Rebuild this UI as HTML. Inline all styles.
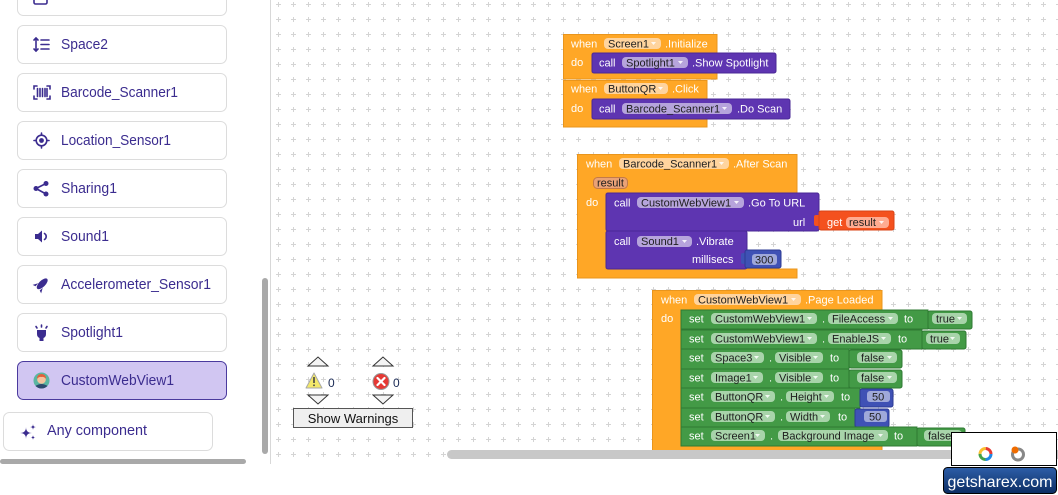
<!DOCTYPE html>
<html><head><meta charset="utf-8"><style>
html,body{margin:0;padding:0;background:#fff;width:1058px;height:495px;overflow:hidden}
svg{display:block}
text{font-family:"Liberation Sans",Arial,sans-serif}
.w{fill:#fff;font-size:11px}
.d{fill:#1e1e1e;font-size:11px}
.s{fill:#3b2c8f;font-size:15px}
.ar{fill:#fff;fill-opacity:.85}
.ic{fill:none;stroke:#3b2c8f;stroke-width:1.6;stroke-linecap:round}
.icf{fill:#3b2c8f}
.card{fill:#fff;stroke:#dcdcdc;stroke-width:1}
.or{fill:#ffa726;stroke:#e9951c;stroke-width:1}
.pu{fill:#5e35b1;stroke:#4a2896;stroke-width:1}
.gr{fill:#439a46;stroke:#2f7a33;stroke-width:1}
.bl{fill:#3f51b5;stroke:#2c3b94;stroke-width:1}
.po{fill:#ffd49e}
.pp{fill:#b6a4dc}
.pg{fill:#a8d4aa}
.pb{fill:#9fa8da}
</style></head><body>
<svg width="1058" height="495" viewBox="0 0 1058 495">
<defs>
<pattern id="g" x="271" y="-3" width="15" height="15" patternUnits="userSpaceOnUse">
<rect x="5" y="7" width="5" height="1" fill="#d4d4d4"/>
<rect x="7" y="5" width="1" height="5" fill="#d4d4d4"/>
</pattern>
<clipPath id="ws"><rect x="271" y="0" width="787" height="464"/></clipPath>
<linearGradient id="sx" x1="0" y1="0" x2="0" y2="1"><stop offset="0" stop-color="#2d5ea8"/><stop offset="1" stop-color="#0c2d62"/></linearGradient>
</defs>

<!-- ===== Sidebar ===== -->
<rect class="card" x="17.5" y="-23.5" width="209" height="39" rx="6"/>
<rect x="34" y="-6" width="13" height="10" rx="1.5" class="ic"/>
<text class="s" x="61" y="0" textLength="80" lengthAdjust="spacingAndGlyphs">ButtonFAB</text>

<rect class="card" x="17.5" y="25.5" width="209" height="38" rx="6"/>
<g class="ic"><line x1="36" y1="38" x2="36" y2="51"/><polyline points="34,40 36,38 38,40"/><polyline points="34,49 36,51 38,49"/><line x1="41" y1="40" x2="49" y2="40"/><line x1="41" y1="44.5" x2="49" y2="44.5"/><line x1="41" y1="49" x2="49" y2="49"/></g>
<text class="s" x="61" y="49" textLength="47" lengthAdjust="spacingAndGlyphs">Space2</text>

<rect class="card" x="17.5" y="73.5" width="209" height="38" rx="6"/>
<g class="ic" stroke-width="1.3"><polyline points="34,89 34,86 37,86"/><polyline points="47,86 50,86 50,89"/><polyline points="34,96 34,99 37,99"/><polyline points="47,99 50,99 50,96"/><line x1="37.5" y1="88.5" x2="37.5" y2="96.5"/><line x1="40" y1="88.5" x2="40" y2="96.5"/><line x1="42.5" y1="88.5" x2="42.5" y2="96.5"/><line x1="45" y1="88.5" x2="45" y2="96.5"/><line x1="47" y1="88.5" x2="47" y2="96.5"/></g>
<text class="s" x="61" y="97" textLength="117" lengthAdjust="spacingAndGlyphs">Barcode_Scanner1</text>

<rect class="card" x="17.5" y="121.5" width="209" height="38" rx="6"/>
<circle cx="41.5" cy="140.5" r="5.3" class="ic"/><circle cx="41.5" cy="140.5" r="2.4" class="icf"/>
<g class="ic"><line x1="41.5" y1="133" x2="41.5" y2="135"/><line x1="41.5" y1="146" x2="41.5" y2="148"/><line x1="34" y1="140.5" x2="36" y2="140.5"/><line x1="47" y1="140.5" x2="49" y2="140.5"/></g>
<text class="s" x="61" y="145" textLength="110" lengthAdjust="spacingAndGlyphs">Location_Sensor1</text>

<rect class="card" x="17.5" y="169.5" width="209" height="38" rx="6"/>
<g class="ic" stroke-width="1.3"><line x1="46" y1="183.5" x2="36" y2="188.5"/><line x1="36" y1="188.5" x2="46" y2="194"/></g>
<circle cx="46" cy="183.5" r="2.5" class="icf"/><circle cx="36" cy="188.5" r="2.5" class="icf"/><circle cx="46" cy="194" r="2.5" class="icf"/>
<text class="s" x="61" y="193" textLength="56" lengthAdjust="spacingAndGlyphs">Sharing1</text>

<rect class="card" x="17.5" y="217.5" width="209" height="38" rx="6"/>
<polygon class="icf" points="35,234 38,234 42,230.5 42,242.5 38,239 35,239"/>
<path class="ic" d="M44.5,233.5 A3.5,3.5 0 0 1 44.5,239.5"/>
<text class="s" x="61" y="241" textLength="48" lengthAdjust="spacingAndGlyphs">Sound1</text>

<rect class="card" x="17.5" y="265.5" width="209" height="38" rx="6"/>
<g transform="rotate(45 41.5 284.5)"><ellipse cx="41.5" cy="283.5" rx="3.2" ry="7" class="icf"/><polygon class="icf" points="38.3,286 35.5,291 38.5,290"/><polygon class="icf" points="44.7,286 47.5,291 44.5,290"/></g>
<text class="s" x="61" y="289" textLength="150" lengthAdjust="spacingAndGlyphs">Accelerometer_Sensor1</text>

<rect class="card" x="17.5" y="313.5" width="209" height="38" rx="6"/>
<path class="icf" d="M37,330 H46 V334 Q46,337 43.5,338 H39.5 Q37,337 37,334 Z"/><rect class="icf" x="39.5" y="338" width="4" height="3"/>
<g class="ic" stroke-width="1.3"><line x1="41.5" y1="325" x2="41.5" y2="327"/><line x1="36" y1="326.5" x2="37" y2="328"/><line x1="47" y1="326.5" x2="46" y2="328"/></g>
<text class="s" x="61" y="337" textLength="62" lengthAdjust="spacingAndGlyphs">Spotlight1</text>

<rect x="17.5" y="361.5" width="209" height="38" rx="6" fill="#d1c6f2" stroke="#4a3a9e"/>
<circle cx="41.5" cy="380.5" r="8" fill="#5ab6a1"/>
<path d="M35.5,386 Q41.5,382 47.5,386 Q45,388.5 41.5,388.5 Q38,388.5 35.5,386 Z" fill="#2d4a6e"/>
<circle cx="41.5" cy="379.5" r="4.3" fill="#f4c49e"/>
<path d="M37,379 Q37,374 41.5,374 Q46,374 46,379 Q44,376.5 41.5,377 Q39,376.5 37,379 Z" fill="#e4603a"/>
<text class="s" x="61" y="385" textLength="113" lengthAdjust="spacingAndGlyphs">CustomWebView1</text>

<rect class="card" x="3.5" y="412.5" width="209" height="38" rx="6"/>
<path class="icf" d="M26,427 Q26,433 32,433 Q26,433 26,439 Q26,433 20,433 Q26,433 26,427 Z"/>
<path class="icf" d="M33,424 Q33,427 36,427 Q33,427 33,430 Q33,427 30,427 Q33,427 33,424 Z"/>
<path class="icf" d="M33,435 Q33,437.5 35.5,437.5 Q33,437.5 33,440 Q33,437.5 30.5,437.5 Q33,437.5 33,435 Z"/>
<text class="s" x="47" y="435" textLength="100" lengthAdjust="spacingAndGlyphs">Any component</text>

<!-- sidebar scrollbars -->
<rect x="262" y="278" width="6" height="176" rx="3" fill="#a9a9a9"/>
<rect x="0" y="459" width="246" height="5" rx="2.5" fill="#a9a9a9"/>

<!-- ===== Workspace ===== -->
<rect x="271" y="0" width="787" height="464" fill="url(#g)"/>
<line x1="270.5" y1="0" x2="270.5" y2="464" stroke="#d8d8d8"/>

<g clip-path="url(#ws)">
<!-- Screen1.Initialize -->
<path class="or" d="M563.5,34.5 H717 V53 H592 V73 H717 V79 H563.5 Z"/>
<rect class="pu" x="592" y="53" width="184" height="20" rx="2"/>
<text class="w" x="571" y="47.5">when</text>
<rect class="po" x="604" y="38" width="57" height="11" rx="4"/><text class="d" x="608" y="47.5">Screen1</text><polygon class="ar" points="651,42 656,42 653.5,45"/>
<text class="w" x="665" y="47.5">.Initialize</text>
<text class="w" x="571" y="66">do</text>
<text class="w" x="599" y="66.5">call</text>
<rect class="pp" x="622" y="57" width="66" height="11" rx="4"/><text class="d" x="626" y="66.5">Spotlight1</text><polygon class="ar" points="678,61 683,61 680.5,64"/>
<text class="w" x="692" y="66.5">.Show Spotlight</text>

<!-- ButtonQR.Click -->
<path class="or" d="M563.5,80.5 H707 V99 H592 V119 H707 V127 H563.5 Z"/>
<rect class="pu" x="592" y="99" width="198" height="20" rx="2"/>
<text class="w" x="571" y="92.5">when</text>
<rect class="po" x="604" y="83" width="64" height="11" rx="4"/><text class="d" x="608" y="92.5">ButtonQR</text><polygon class="ar" points="658,87 663,87 660.5,90"/>
<text class="w" x="672" y="92.5">.Click</text>
<text class="w" x="571" y="112">do</text>
<text class="w" x="599" y="112.5">call</text>
<rect class="pp" x="622" y="103" width="110" height="11" rx="4"/><text class="d" x="626" y="112.5">Barcode_Scanner1</text><polygon class="ar" points="722,107 727,107 724.5,110"/>
<text class="w" x="737" y="112.5">.Do Scan</text>

<!-- Barcode_Scanner1.After Scan -->
<path class="or" d="M577.5,154.5 H797 V193 H606 V269 H797 V278 H577.5 Z"/>
<text class="w" x="586" y="167.5">when</text>
<rect class="po" x="619" y="158" width="110" height="11" rx="4"/><text class="d" x="623" y="167.5">Barcode_Scanner1</text><polygon class="ar" points="719,162 724,162 721.5,165"/>
<text class="w" x="733" y="167.5">.After Scan</text>
<rect x="593.5" y="177.5" width="34" height="11" rx="4" fill="#eaa276" stroke="#c47a48"/><text class="d" x="597" y="186.5">result</text>
<text class="w" x="586" y="206">do</text>
<rect class="pu" x="606" y="193" width="213" height="38" rx="2"/>
<text class="w" x="614" y="206.5">call</text>
<rect class="pp" x="637" y="197" width="107" height="11" rx="4"/><text class="d" x="641" y="206.5">CustomWebView1</text><polygon class="ar" points="734,201 739,201 736.5,204"/>
<text class="w" x="748" y="206.5">.Go To URL</text>
<text class="w" x="793" y="226">url</text>
<rect x="814" y="215" width="7" height="11" rx="2" fill="#f4511e"/>
<rect x="819" y="211" width="75" height="19" rx="2" fill="#f4511e" stroke="#d84315"/>
<text class="w" x="827" y="226">get</text>
<rect x="846" y="217" width="43" height="11" rx="4" fill="#ffab91"/><text class="d" x="849" y="226">result</text><polygon class="ar" points="879,221 884,221 881.5,224"/>
<rect class="pu" x="606" y="231" width="141" height="38" rx="2"/>
<text class="w" x="614" y="245">call</text>
<rect class="pp" x="637" y="236" width="55" height="11" rx="4"/><text class="d" x="641" y="245">Sound1</text><polygon class="ar" points="682,240 687,240 684.5,243"/>
<text class="w" x="696" y="245">.Vibrate</text>
<text class="w" x="692" y="263">millisecs</text>
<rect x="741" y="253" width="6" height="11" rx="2" fill="#3f51b5"/>
<rect class="bl" x="745" y="250" width="36" height="18" rx="2"/>
<rect class="pb" x="752" y="254" width="25" height="11" rx="3"/><text class="d" x="755" y="263.5">300</text>

<!-- CustomWebView1.Page Loaded -->
<path class="or" d="M652.5,290.5 H882 V310 H681 V446 H882 V456 H652.5 Z"/>
<text class="w" x="661" y="303.5">when</text>
<rect class="po" x="694" y="294" width="107" height="11" rx="4"/><text class="d" x="698" y="303.5">CustomWebView1</text><polygon class="ar" points="791,298 796,298 793.5,301"/>
<text class="w" x="805" y="303.5">.Page Loaded</text>
<text class="w" x="661" y="322">do</text>

<!-- row 1 -->
<rect class="gr" x="681" y="310" width="247" height="19"/>
<text class="w" x="689" y="322.5">set</text>
<rect class="pg" x="711" y="313" width="106" height="11" rx="4"/><text class="d" x="715" y="322.5">CustomWebView1</text><polygon class="ar" points="807,317 812,317 809.5,320"/>
<text class="w" x="822" y="322.5">.</text>
<rect class="pg" x="828" y="313" width="70" height="11" rx="4"/><text class="d" x="832" y="322.5">FileAccess</text><polygon class="ar" points="888,317 893,317 890.5,320"/>
<text class="w" x="904" y="322.5">to</text>
<rect class="gr" x="928" y="311" width="44" height="18" rx="2"/>
<rect class="pg" x="932" y="313" width="35" height="11" rx="4"/><text class="d" x="936" y="322.5">true</text><polygon class="ar" points="957,317 962,317 959.5,320"/>

<!-- row 2 -->
<rect class="gr" x="681" y="330" width="241" height="19"/>
<text class="w" x="689" y="342.5">set</text>
<rect class="pg" x="711" y="333" width="106" height="11" rx="4"/><text class="d" x="715" y="342.5">CustomWebView1</text><polygon class="ar" points="807,337 812,337 809.5,340"/>
<text class="w" x="822" y="342.5">.</text>
<rect class="pg" x="828" y="333" width="63" height="11" rx="4"/><text class="d" x="832" y="342.5">EnableJS</text><polygon class="ar" points="881,337 886,337 883.5,340"/>
<text class="w" x="898" y="342.5">to</text>
<rect class="gr" x="922" y="331" width="44" height="18" rx="2"/>
<rect class="pg" x="926" y="333" width="34" height="11" rx="4"/><text class="d" x="930" y="342.5">true</text><polygon class="ar" points="950,337 955,337 952.5,340"/>

<!-- row 3 -->
<rect class="gr" x="681" y="349" width="168" height="20"/>
<text class="w" x="689" y="361.5">set</text>
<rect class="pg" x="711" y="352" width="53" height="11" rx="4"/><text class="d" x="715" y="361.5">Space3</text><polygon class="ar" points="754,356 759,356 756.5,359"/>
<text class="w" x="769" y="361.5">.</text>
<rect class="pg" x="775" y="352" width="48" height="11" rx="4"/><text class="d" x="779" y="361.5">Visible</text><polygon class="ar" points="813,356 818,356 815.5,359"/>
<text class="w" x="830" y="361.5">to</text>
<rect class="gr" x="849" y="350" width="53" height="18" rx="2"/>
<rect class="pg" x="857" y="352" width="40" height="11" rx="4"/><text class="d" x="861" y="361.5">false</text><polygon class="ar" points="887,356 892,356 889.5,359"/>

<!-- row 4 -->
<rect class="gr" x="681" y="369" width="168" height="19"/>
<text class="w" x="689" y="381.5">set</text>
<rect class="pg" x="711" y="372" width="52" height="11" rx="4"/><text class="d" x="715" y="381.5">Image1</text><polygon class="ar" points="753,376 758,376 755.5,379"/>
<text class="w" x="769" y="381.5">.</text>
<rect class="pg" x="775" y="372" width="48" height="11" rx="4"/><text class="d" x="779" y="381.5">Visible</text><polygon class="ar" points="813,376 818,376 815.5,379"/>
<text class="w" x="830" y="381.5">to</text>
<rect class="gr" x="849" y="370" width="53" height="18" rx="2"/>
<rect class="pg" x="857" y="372" width="40" height="11" rx="4"/><text class="d" x="861" y="381.5">false</text><polygon class="ar" points="887,376 892,376 889.5,379"/>

<!-- row 5 -->
<rect class="gr" x="681" y="388" width="179" height="20"/>
<text class="w" x="689" y="400.5">set</text>
<rect class="pg" x="711" y="391" width="64" height="11" rx="4"/><text class="d" x="715" y="400.5">ButtonQR</text><polygon class="ar" points="765,395 770,395 767.5,398"/>
<text class="w" x="780" y="400.5">.</text>
<rect class="pg" x="786" y="391" width="48" height="11" rx="4"/><text class="d" x="790" y="400.5">Height</text><polygon class="ar" points="824,395 829,395 826.5,398"/>
<text class="w" x="841" y="400.5">to</text>
<rect class="bl" x="860" y="389" width="33" height="18" rx="2"/>
<rect class="pb" x="867" y="391" width="23" height="11" rx="3"/><text class="d" x="872" y="400.5">50</text>

<!-- row 6 -->
<rect class="gr" x="681" y="408" width="174" height="19"/>
<text class="w" x="689" y="420.5">set</text>
<rect class="pg" x="711" y="411" width="64" height="11" rx="4"/><text class="d" x="715" y="420.5">ButtonQR</text><polygon class="ar" points="765,415 770,415 767.5,418"/>
<text class="w" x="780" y="420.5">.</text>
<rect class="pg" x="786" y="411" width="44" height="11" rx="4"/><text class="d" x="790" y="420.5">Width</text><polygon class="ar" points="820,415 825,415 822.5,418"/>
<text class="w" x="838" y="420.5">to</text>
<rect class="bl" x="855" y="409" width="34" height="18" rx="2"/>
<rect class="pb" x="864" y="411" width="23" height="11" rx="3"/><text class="d" x="869" y="420.5">50</text>

<!-- row 7 -->
<rect class="gr" x="681" y="427" width="236" height="19"/>
<text class="w" x="689" y="439.5">set</text>
<rect class="pg" x="711" y="430" width="54" height="11" rx="4"/><text class="d" x="715" y="439.5">Screen1</text><polygon class="ar" points="755,434 760,434 757.5,437"/>
<text class="w" x="770" y="439.5">.</text>
<rect class="pg" x="778" y="430" width="110" height="11" rx="4"/><text class="d" x="782" y="439.5">Background Image</text><polygon class="ar" points="878,434 883,434 880.5,437"/>
<text class="w" x="894" y="439.5">to</text>
<rect class="gr" x="917" y="428" width="48" height="18" rx="2"/>
<rect class="pg" x="924" y="430" width="38" height="11" rx="4"/><text class="d" x="928" y="439.5">false</text>

<!-- warnings -->
<polygon points="308,366 318,357 328,366" fill="#f4f4f4" stroke="#333" stroke-width="1"/>
<polygon points="308,395 328,395 318,404" fill="#f4f4f4" stroke="#333" stroke-width="1"/>
<polygon points="373,366 383,357 393,366" fill="#f4f4f4" stroke="#333" stroke-width="1"/>
<polygon points="373,395 393,395 383,404" fill="#f4f4f4" stroke="#333" stroke-width="1"/>
<polygon points="314,373 322,388 306,388" fill="#f3e86a" stroke="#a8a8a8" stroke-width="1" stroke-linejoin="round"/>
<rect x="313.2" y="377" width="1.6" height="6" fill="#444"/><rect x="313.2" y="384.5" width="1.6" height="1.6" fill="#444"/>
<text x="328" y="387" font-size="12" fill="#1a2a55">0</text>
<circle cx="381" cy="381.5" r="8" fill="#e53935" stroke="#999" stroke-width="1"/>
<g stroke="#fff" stroke-width="2.2" stroke-linecap="round"><line x1="377.5" y1="378" x2="384.5" y2="385"/><line x1="384.5" y1="378" x2="377.5" y2="385"/></g>
<text x="393" y="387" font-size="12" fill="#1a2a55">0</text>
<rect x="293.5" y="408.5" width="119" height="19" fill="#efefef" stroke="#555" stroke-width="1"/>
<text x="353" y="423" font-size="13" fill="#111" text-anchor="middle">Show Warnings</text>

<!-- workspace scrollbar -->
<rect x="447" y="450" width="615" height="9" rx="4.5" fill="#c8c8c8"/>
</g>

<!-- ShareX overlay -->
<rect x="951.5" y="432.5" width="105" height="33" fill="#fff" stroke="#000"/>
<g fill="none" stroke-width="3">
<circle cx="985.5" cy="454" r="5.5" stroke="#1e88e5" stroke-dasharray="8.64 25.92" stroke-dashoffset="0"/>
<circle cx="985.5" cy="454" r="5.5" stroke="#e53935" stroke-dasharray="8.64 25.92" stroke-dashoffset="8.64"/>
<circle cx="985.5" cy="454" r="5.5" stroke="#fbc02d" stroke-dasharray="8.64 25.92" stroke-dashoffset="17.28"/>
<circle cx="985.5" cy="454" r="5.5" stroke="#43a047" stroke-dasharray="8.64 25.92" stroke-dashoffset="25.92"/>
<circle cx="1018" cy="454.5" r="5.5" stroke="#888"/>
</g>
<circle cx="1015" cy="450" r="3.5" fill="#ef6c00"/>
<rect x="943.5" y="467.5" width="113" height="26" rx="4" fill="url(#sx)" stroke="#000"/>
<text x="1000" y="487" font-size="16" fill="#fff" text-anchor="middle">getsharex.com</text>
</svg>
</body></html>
